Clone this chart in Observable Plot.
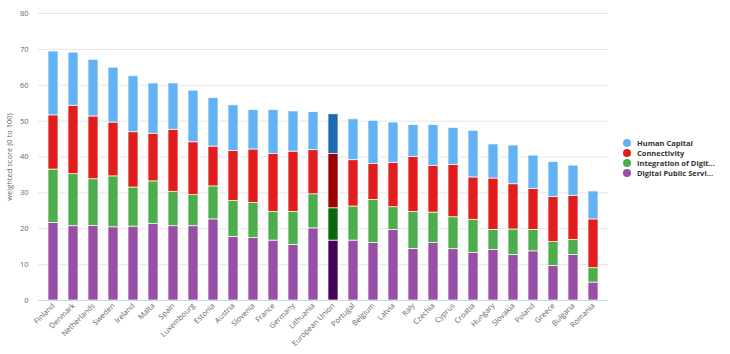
<!DOCTYPE html>
<html>
<head>
<meta charset="utf-8">
<script src="https://cdn.jsdelivr.net/npm/d3@7"></script>
<script src="https://cdn.jsdelivr.net/npm/@observablehq/plot@0.6"></script>
<style>
  html, body { margin: 0; padding: 0; background: #fff; }
  #wrap { position: relative; width: 730px; height: 354px; }
  #legend { position: absolute; left: 623px; top: 138px; font-family: "Open Sans", sans-serif; font-weight: bold; font-size: 7.5px; color: #333; }
  #legend div { height: 10px; line-height: 10px; white-space: nowrap; }
  #legend span.sw { display: inline-block; width: 8px; height: 8px; border-radius: 50%; margin-right: 6px; vertical-align: -1px; }
</style>
</head>
<body>
<div id="wrap"><div id="chart"></div><div id="legend"></div></div>
<script>
const countries = ["Finland","Denmark","Netherlands","Sweden","Ireland","Malta","Spain","Luxembourg","Estonia","Austria","Slovenia","France","Germany","Lithuania","European Union","Portugal","Belgium","Latvia","Italy","Czechia","Cyprus","Croatia","Hungary","Slovakia","Poland","Greece","Bulgaria","Romania"];
const digitalPublicServices = [21.6,20.7,20.8,20.4,20.6,21.3,20.7,20.7,22.6,17.7,17.4,16.7,15.5,20.1,16.7,16.7,16.0,19.7,14.4,16.0,14.3,13.2,14.1,12.7,13.7,9.6,12.7,5.0];
const integrationOfDigitalTech = [14.9,14.5,13.0,14.2,10.9,11.9,9.6,8.7,9.2,10.0,9.8,8.0,9.2,9.5,9.0,9.5,12.0,6.3,10.3,8.5,8.9,9.3,5.6,7.1,6.0,6.7,4.2,4.0];
const connectivity = [15.1,19.1,17.5,15.0,15.4,13.3,17.3,14.7,11.1,14.0,14.9,16.1,16.8,12.3,15.1,12.9,10.1,12.4,15.3,13.0,14.6,11.8,14.3,12.6,11.4,12.5,12.3,13.6];
const humanCapital = [17.8,14.8,15.8,15.3,15.6,14.0,12.9,14.4,13.5,12.7,11.0,12.3,11.2,10.6,11.1,11.4,12.0,11.2,8.9,11.4,10.3,13.0,9.5,10.8,9.3,9.8,8.4,7.8];
const seriesNames = ["Human Capital","Connectivity","Integration of Digit...","Digital Public Servi..."];
const yTicks = [0,10,20,30,40,50,60,70,80];

const colors = {
  "Digital Public Services": ["#9a4fa6", "#45005a"],
  "Integration of Digital Technology": ["#4cae4c", "#0b650b"],
  "Connectivity": ["#e21d1d", "#9b0000"],
  "Human Capital": ["#62b3f5", "#1d6bb2"]
};
const legendColors = ["#62b3f5", "#e21d1d", "#4cae4c", "#9a4fa6"];

const rows = [];
countries.forEach((c, i) => {
  rows.push({country: c, series: "Digital Public Services", value: digitalPublicServices[i]});
  rows.push({country: c, series: "Integration of Digital Technology", value: integrationOfDigitalTech[i]});
  rows.push({country: c, series: "Connectivity", value: connectivity[i]});
  rows.push({country: c, series: "Human Capital", value: humanCapital[i]});
});

const chart = Plot.plot({
  width: 730,
  height: 354,
  marginLeft: 38,
  marginRight: 122,
  marginTop: 13,
  marginBottom: 54,
  style: {fontFamily: "'Open Sans', sans-serif", color: "#666", background: "transparent"},
  x: {domain: countries, paddingInner: 0.5, paddingOuter: 0.25},
  y: {domain: [0, 80]},
  marks: [
    Plot.gridY(yTicks, {stroke: "#e6e6e6", strokeOpacity: 1}),
    Plot.axisY(yTicks, {tickSize: 0, tickPadding: 10, fontSize: 7.5, label: "weighted score (0 to 100)", labelAnchor: "center", labelArrow: "none", labelOffset: 32}),
    Plot.barY(rows, {x: "country", y: "value", fill: d => colors[d.series][d.country === "European Union" ? 1 : 0], stroke: "#fff", strokeWidth: 0.7}),
    Plot.ruleY([0], {stroke: "#ccd6eb"}),
    Plot.axisX({tickRotate: -45, tickSize: 0, tickPadding: 4, fontSize: 7.5, label: null})
  ]
});
document.getElementById("chart").appendChild(chart);

const leg = document.getElementById("legend");
seriesNames.forEach((n, i) => {
  const d = document.createElement("div");
  d.innerHTML = `<span class="sw" style="background:${legendColors[i]}"></span>${n}`;
  leg.appendChild(d);
});
</script>
</body>
</html>
